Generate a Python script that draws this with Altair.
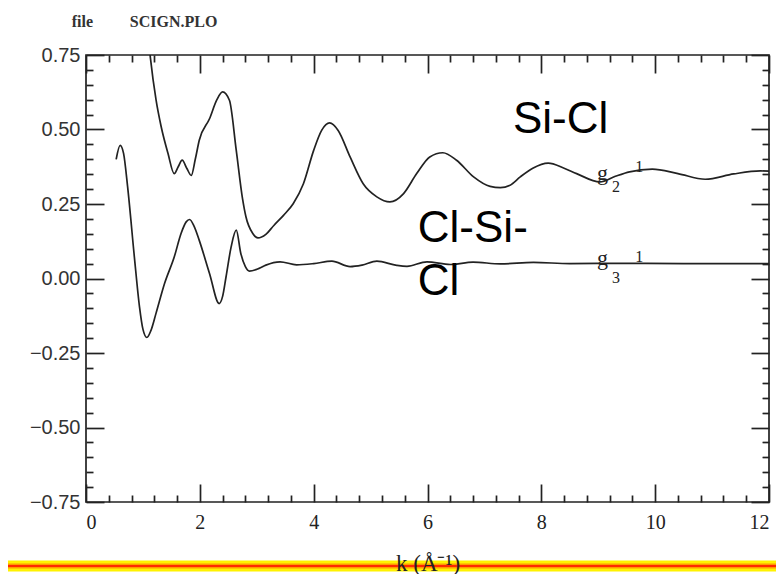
import altair as alt
import pandas as pd

# ---- data ----
g2_k = [1.05, 1.13, 1.23, 1.32, 1.44, 1.55, 1.62, 1.69, 1.77, 1.85, 1.92, 1.99, 2.17, 2.30, 2.40,
        2.52, 2.64, 2.75, 2.81, 2.93, 3.02, 3.16, 3.30, 3.47, 3.64, 3.82, 4.00, 4.14, 4.28, 4.43,
        4.64, 4.87, 5.11, 5.34, 5.58, 5.81, 6.04, 6.27, 6.51, 6.81, 7.10, 7.28, 7.45, 7.63, 7.85,
        8.12, 8.40, 8.62, 9.03, 9.30, 9.55, 9.95, 10.40, 10.88, 11.38, 11.85, 12.00]
g2_v = [0.90, 0.743, 0.60, 0.51, 0.42, 0.352, 0.375, 0.397, 0.370, 0.346, 0.400, 0.464, 0.536, 0.600, 0.626,
        0.598, 0.430, 0.268, 0.207, 0.151, 0.136, 0.148, 0.178, 0.212, 0.251, 0.318, 0.430, 0.497, 0.522, 0.497,
        0.408, 0.318, 0.274, 0.257, 0.285, 0.352, 0.408, 0.422, 0.397, 0.341, 0.309, 0.305, 0.313, 0.341, 0.370,
        0.387, 0.370, 0.352, 0.324, 0.343, 0.358, 0.367, 0.352, 0.333, 0.351, 0.361, 0.360]

g3_k = [0.53, 0.60, 0.66, 0.73, 0.85, 0.94, 1.00, 1.07, 1.14, 1.23, 1.38, 1.55, 1.67, 1.76, 1.82,
        1.90, 1.99, 2.17, 2.34, 2.40, 2.46, 2.55, 2.64, 2.72, 2.80, 2.87, 3.04, 3.16, 3.41, 3.70,
        4.00, 4.32, 4.64, 4.85, 5.11, 5.46, 5.64, 5.99, 6.40, 6.80, 7.28, 7.86, 8.50, 9.50, 10.50, 12.00]
g3_v = [0.40, 0.447, 0.42, 0.31, 0.072, -0.095, -0.17, -0.198, -0.175, -0.117, -0.017, 0.072, 0.151, 0.190, 0.198,
        0.175, 0.128, 0.017, -0.084, -0.060, 0.005, 0.106, 0.162, 0.084, 0.040, 0.025, 0.034, 0.045, 0.056, 0.046,
        0.050, 0.058, 0.040, 0.045, 0.058, 0.044, 0.041, 0.056, 0.047, 0.055, 0.049, 0.054, 0.050, 0.051, 0.050, 0.050]

x_labels = [0, 2, 4, 6, 8, 10, 12]
x_ticks = [round(i * 0.4, 1) for i in range(31)]
y_labels = [-0.75, -0.5, -0.25, 0.0, 0.25, 0.5, 0.75]
y_ticks = [round(-0.75 + i * 0.05, 2) for i in range(31)]

big_text = ["Si-Cl", "Cl-Si-", "Cl"]
big_x = [7.50, 5.83, 5.83]
big_y = [0.487, 0.122, -0.056]

g_text = ["g", "g"]
g_x = [8.98, 8.98]
g_y = [0.33, 0.045]
small_text = ["2", "1", "3", "1"]
small_x = [9.24, 9.65, 9.24, 9.65]
small_y = [0.289, 0.356, -0.016, 0.055]

head_text = ["file", "SCIGN.PLO"]
head_x = [-0.25, 0.77]
head_y = [0.843, 0.843]

W, H = 683, 447

curves = pd.concat([
    pd.DataFrame({"k": g2_k, "v": g2_v, "s": "g2"}),
    pd.DataFrame({"k": g3_k, "v": g3_v, "s": "g3"}),
])

xs = alt.Scale(domain=[0, 12], nice=False, zero=False)
ys = alt.Scale(domain=[-0.75, 0.75], nice=False, zero=False)

cond_x = {"condition": {"test": "round(datum.value*10) % 20 == 0", "value": 18}, "value": 7}
cond_y = {"condition": {"test": "round(datum.value*100) % 25 == 0", "value": 18}, "value": 7}

INK = "#222222"

lines = alt.Chart(curves).mark_line(color=INK, strokeWidth=1.7, clip=True, interpolate="monotone").encode(
    x=alt.X("k:Q", scale=xs, axis=alt.Axis(
        orient="bottom", values=x_labels, format="d", ticks=False, domain=False, grid=False,
        labelFont="Liberation Serif", labelFontSize=20, labelColor=INK, labelPadding=10,
        title="k (Å⁻¹)", titleFont="Liberation Serif", titleFontSize=23, titleFontWeight="normal",
        titleColor=INK, titleX=W / 2, titleY=68, titleBaseline="alphabetic", zindex=1)),
    y=alt.Y("v:Q", scale=ys, axis=alt.Axis(
        orient="left", values=y_labels, format=".2f", ticks=False, domain=False, grid=False,
        labelFont="Liberation Sans", labelFontSize=20, labelColor="#333333", labelPadding=6,
        title=None)),
    detail="s:N",
)


def tick_layer(xorient, yorient):
    return alt.Chart(curves).mark_line(opacity=0).encode(
        x=alt.X("k:Q", scale=xs, axis=alt.Axis(
            orient=xorient, offset=-H, values=x_ticks, labels=False, domain=False, grid=False,
            tickSize=cond_x, tickColor=INK, tickWidth=1.7, title=None)),
        y=alt.Y("v:Q", scale=ys, axis=alt.Axis(
            orient=yorient, offset=-W, values=y_ticks, labels=False, domain=False, grid=False,
            tickSize=cond_y, tickColor=INK, tickWidth=1.7, title=None)),
        detail="s:N",
    )


ticks_a = tick_layer("top", "right")
ticks_b = tick_layer("bottom", "left")

one = pd.DataFrame({"a": [0]})
band_y = alt.value(H + 64)
band = [
    alt.Chart(one).mark_rule(color=c, strokeWidth=w).encode(
        x=alt.value(-78), x2=alt.value(W + 7), y=band_y)
    for c, w in [("#FFF200", 11), ("#FF9a00", 5), ("#FF2a00", 2)]
]


def text_layer(t, k, v, **mk):
    return alt.Chart(pd.DataFrame({"t": t, "k": k, "v": v})).mark_text(
        align="left", baseline="alphabetic", **mk
    ).encode(
        x=alt.X("k:Q", scale=xs, axis=None),
        y=alt.Y("v:Q", scale=ys, axis=None),
        text="t:N",
    )


big = text_layer(big_text, big_x, big_y, font="Liberation Sans", fontSize=44, color="#000000")
gl = text_layer(g_text, g_x, g_y, font="Liberation Serif", fontSize=22, color=INK)
sl = text_layer(small_text, small_x, small_y, font="Liberation Serif", fontSize=16, color=INK)
head = text_layer(head_text, head_x, head_y, font="Liberation Serif", fontSize=16,
                  fontWeight="bold", color="#333333")

chart = alt.layer(*band, lines, ticks_a, ticks_b, big, gl, sl, head).resolve_axis(
    x="independent", y="independent"
).properties(
    width=W, height=H,
    autosize=alt.AutoSizeParams(type="none"),
    padding={"left": 78, "top": 47, "right": 7, "bottom": 72},
    background="white",
).configure_view(stroke=INK, strokeWidth=1.7)

chart.save("out.html", embed_options={"renderer": "svg", "actions": False})
